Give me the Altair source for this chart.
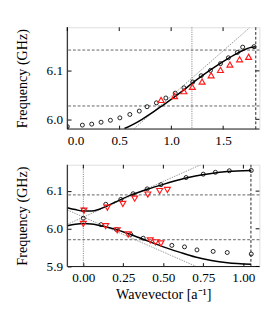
import altair as alt
import pandas as pd

FONT = "'Liberation Serif', 'Times New Roman', serif"
RED = "#ff1a1a"

# ---------------- top panel data ----------------
top_circ_x = [0.0, 0.145, 0.235, 0.325, 0.415, 0.506, 0.602, 0.693, 0.768, 0.858, 0.949,
              1.039, 1.123, 1.208, 1.289, 1.379, 1.475, 1.551, 1.638, 1.689, 1.798]
top_circ_y = [5.985, 5.988, 5.990, 5.994, 5.998, 6.003, 6.010, 6.017, 6.026, 6.034, 6.044,
              6.054, 6.065, 6.077, 6.090, 6.101, 6.115, 6.127, 6.138, 6.149, 6.150]
top_tri_x = [0.903, 1.033, 1.123, 1.204, 1.298, 1.385, 1.475, 1.566, 1.659, 1.746]
top_tri_y = [6.040, 6.048, 6.058, 6.067, 6.078, 6.091, 6.102, 6.113, 6.124, 6.129]
top_curve_x = [0.55, 0.62, 0.72, 0.80, 0.90, 1.00, 1.10, 1.20, 1.30, 1.40, 1.50, 1.60, 1.70, 1.76, 1.81]
top_curve_y = [5.981, 5.988, 6.000, 6.011, 6.026, 6.041, 6.057, 6.074, 6.090, 6.105, 6.119,
               6.132, 6.143, 6.148, 6.150]
top_diag_x = [0.645, 1.755]
top_diag_y = [5.981, 6.189]
top_hdash = [6.143, 6.0275]
top_vdash = [1.815]
top_vdot = [1.2]
top_xticks = [0.0, 0.5, 1.0, 1.5]
top_yticks = [6.0, 6.1]

# ---------------- bottom panel data ----------------
bu_circ_x = [0.0, 0.140, 0.234, 0.311, 0.399, 0.485, 0.642, 0.749, 0.825, 0.912, 1.049]
bu_circ_y = [6.050, 6.065, 6.078, 6.093, 6.106, 6.117, 6.136, 6.145, 6.150, 6.154, 6.155]
bl_circ_x = [0.0, 0.111, 0.208, 0.296, 0.374, 0.553, 0.632, 0.710, 0.811, 0.899, 1.049]
bl_circ_y = [6.028, 6.011, 5.998, 5.985, 5.975, 5.956, 5.952, 5.944, 5.940, 5.937, 5.933]
bu_tri_x = [0.004, 0.150, 0.247, 0.321, 0.403, 0.477, 0.525]
bu_tri_y = [6.048, 6.056, 6.066, 6.080, 6.091, 6.100, 6.103]
bl_tri_x = [0.0, 0.140, 0.212, 0.280, 0.418, 0.451, 0.485]
bl_tri_y = [6.013, 6.007, 5.996, 5.985, 5.969, 5.964, 5.961]
bu_curve_x = [-0.1, -0.05, 0.0, 0.05, 0.10, 0.15, 0.20, 0.30, 0.40, 0.50, 0.60, 0.70, 0.80, 0.90, 1.047]
bu_curve_y = [6.056, 6.051, 6.047, 6.047, 6.052, 6.061, 6.071, 6.090, 6.105, 6.118, 6.130,
              6.140, 6.147, 6.152, 6.155]
bl_curve_x = [-0.1, -0.05, 0.0, 0.05, 0.10, 0.20, 0.30, 0.40, 0.50, 0.60, 0.70, 0.80, 0.90, 1.047]
bl_curve_y = [6.008, 6.012, 6.014, 6.013, 6.009, 5.999, 5.984, 5.968, 5.952, 5.938, 5.925,
              5.916, 5.910, 5.906]
b_diag1_x = [-0.1, 0.733]
b_diag1_y = [6.012, 6.170]
b_diag2_x = [-0.1, 0.705]
b_diag2_y = [6.050, 5.900]
bot_hdash = [6.09, 5.971]
bot_vdash = [1.047]
bot_vdot = [0.0]
bot_xticks = [0.0, 0.25, 0.5, 0.75, 1.0]
bot_yticks = [5.9, 6.0, 6.1]

W, H = 204, 108


def panel(xdom, ydom, xticks, yticks, xfmt, xtitle, series):
    xs = alt.Scale(domain=xdom, nice=False, zero=False)
    ys = alt.Scale(domain=ydom, nice=False, zero=False)
    xaxis = alt.Axis(values=xticks, format=xfmt, title=xtitle, grid=False, domain=False,
                     offset=-4, tickSize=4, tickColor="black", tickWidth=1,
                     labelPadding=5, labelFont=FONT, labelFontSize=14, labelColor="black",
                     titleFont=FONT, titleFontSize=15, titleFontWeight="normal",
                     titleColor="black", titlePadding=3)
    yaxis = alt.Axis(values=yticks, format=".1f", title="Frequency (GHz)", grid=False,
                     domain=False, offset=-4, tickSize=4, tickColor="black", tickWidth=1,
                     labelPadding=5, labelFont=FONT, labelFontSize=14, labelColor="black",
                     titleFont=FONT, titleFontSize=15, titleFontWeight="normal",
                     titleColor="black", titlePadding=18)

    def X(f="x"):
        return alt.X(f, type="quantitative", scale=xs, axis=xaxis)

    def Y(f="y"):
        return alt.Y(f, type="quantitative", scale=ys, axis=yaxis)

    layers = []
    for kind, xv, yv in series:
        df = pd.DataFrame({"x": xv, "y": yv})
        if kind == "curve":
            layers.append(alt.Chart(df).mark_line(color="black", strokeWidth=1.6,
                                                  interpolate="monotone", clip=True)
                          .encode(x=X(), y=Y()))
        elif kind == "diag":
            layers.append(alt.Chart(df).mark_line(color="#777777", strokeWidth=0.8,
                                                  strokeDash=[1.5, 1.2], clip=True)
                          .encode(x=X(), y=Y()))
        elif kind == "circ":
            layers.append(alt.Chart(df).mark_point(shape="circle", size=18, filled=False,
                                                   color="black", strokeWidth=0.9,
                                                   opacity=1, clip=True)
                          .encode(x=X(), y=Y()))
        elif kind == "tri_up":
            layers.append(alt.Chart(df).mark_point(shape="triangle-up", size=40, filled=False,
                                                   color=RED, strokeWidth=1.2,
                                                   opacity=1, clip=True)
                          .encode(x=X(), y=Y()))
        elif kind == "tri_down":
            layers.append(alt.Chart(df).mark_point(shape="triangle-down", size=40, filled=False,
                                                   color=RED, strokeWidth=1.2,
                                                   opacity=1, clip=True)
                          .encode(x=X(), y=Y()))
        elif kind == "hdash":
            layers.append(alt.Chart(pd.DataFrame({"y": yv})).mark_rule(
                color="#333333", strokeWidth=0.8, strokeDash=[3, 2]).encode(y=Y()))
        elif kind == "vdash":
            layers.append(alt.Chart(pd.DataFrame({"x": xv})).mark_rule(
                color="black", strokeWidth=0.9, strokeDash=[3, 2]).encode(x=X()))
        elif kind == "vdot":
            layers.append(alt.Chart(pd.DataFrame({"x": xv})).mark_rule(
                color="#666666", strokeWidth=0.8, strokeDash=[1.2, 1.2]).encode(x=X()))

    one = pd.DataFrame({"a": [0]})
    # dark left and bottom spines
    layers.append(alt.Chart(one).mark_rule(color="#222222", strokeWidth=1.2).encode(
        x=alt.value(0), y=alt.value(0), y2=alt.value(H)))
    layers.append(alt.Chart(one).mark_rule(color="#222222", strokeWidth=1.2).encode(
        x=alt.value(0), x2=alt.value(W), y=alt.value(H)))
    # inward ticks on top and right
    layers.append(alt.Chart(pd.DataFrame({"x": xticks})).mark_rule(color="black", strokeWidth=1)
                  .encode(x=X(), y=alt.value(0), y2=alt.value(4)))
    layers.append(alt.Chart(pd.DataFrame({"y": yticks})).mark_rule(color="black", strokeWidth=1)
                  .encode(y=Y(), x=alt.value(W), x2=alt.value(W - 4)))

    return alt.layer(*layers).properties(width=W, height=H)


top = panel([0, 1.85], [5.98, 6.19], top_xticks, top_yticks, ".1f", None, [
    ("hdash", None, top_hdash),
    ("vdot", top_vdot, None),
    ("vdash", top_vdash, None),
    ("diag", top_diag_x, top_diag_y),
    ("curve", top_curve_x, top_curve_y),
    ("circ", top_circ_x, top_circ_y),
    ("tri_up", top_tri_x, top_tri_y),
])

bottom = panel([-0.1, 1.1], [5.9, 6.17], bot_xticks, bot_yticks, ".2f", "Wavevector [a⁻¹]", [
    ("hdash", None, bot_hdash),
    ("vdot", bot_vdot, None),
    ("vdash", bot_vdash, None),
    ("diag", b_diag1_x, b_diag1_y),
    ("diag", b_diag2_x, b_diag2_y),
    ("curve", bu_curve_x, bu_curve_y),
    ("curve", bl_curve_x, bl_curve_y),
    ("circ", bu_circ_x, bu_circ_y),
    ("circ", bl_circ_x, bl_circ_y),
    ("tri_down", bu_tri_x, bu_tri_y),
    ("tri_down", bl_tri_x, bl_tri_y),
])

chart = alt.vconcat(top, bottom, spacing=16).properties(
    padding={"left": 7, "top": 9, "right": 5, "bottom": 3}
).configure_view(stroke="#999999", strokeWidth=1.6).configure(background="white", font=FONT)

chart.save("out.html", embed_options={"renderer": "svg", "actions": False})
